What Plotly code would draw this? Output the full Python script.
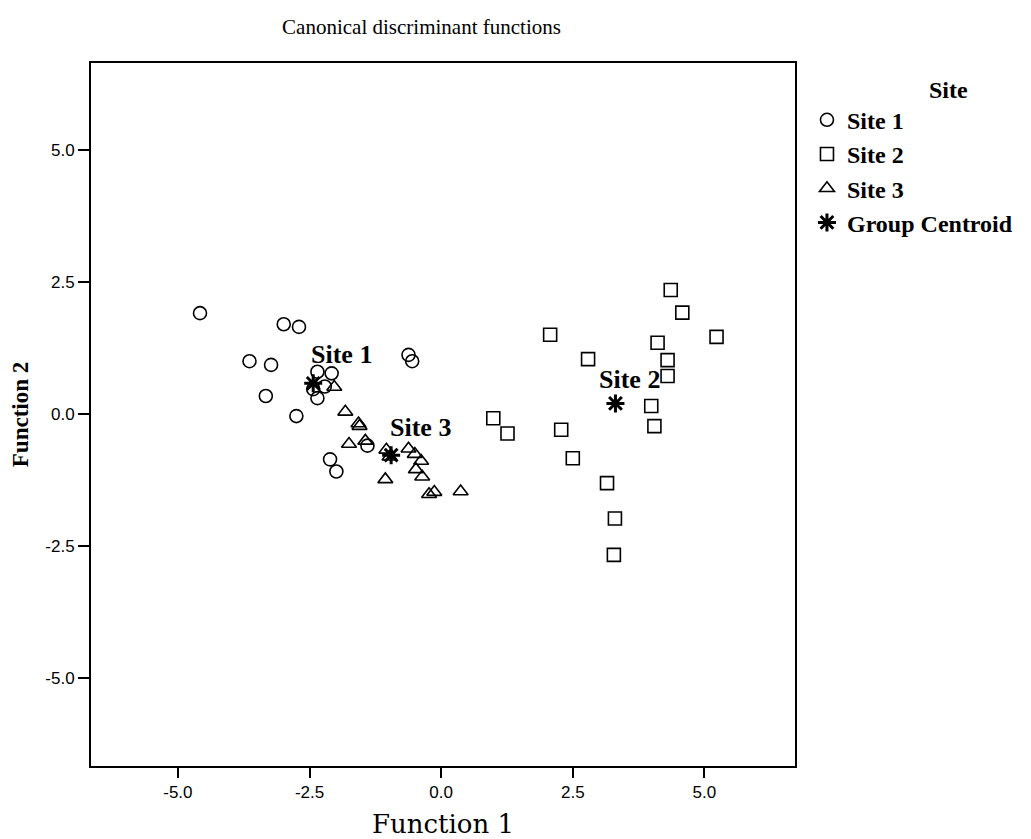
import plotly.graph_objects as go

site1_x = [-4.58, -2.99, -2.70, -3.64, -3.23, -3.33, -2.75, -2.35, -2.08, -2.43, -2.21, -2.35, -2.11, -1.99, -1.40, -0.62, -0.55]
site1_y = [1.91, 1.70, 1.65, 1.00, 0.93, 0.34, -0.04, 0.80, 0.77, 0.47, 0.52, 0.30, -0.86, -1.09, -0.60, 1.12, 1.00]

site2_x = [4.36, 4.58, 2.07, 5.23, 4.11, 2.79, 4.30, 4.30, 3.99, 4.05, 0.99, 1.26, 2.28, 2.50, 3.15, 3.30, 3.28]
site2_y = [2.35, 1.92, 1.50, 1.46, 1.35, 1.04, 1.02, 0.72, 0.15, -0.23, -0.08, -0.37, -0.30, -0.84, -1.31, -1.98, -2.67]

site3_x = [-2.03, -1.82, -1.57, -1.55, -1.75, -1.44, -1.04, -0.98, -0.62, -0.50, -0.38, -0.48, -0.36, -1.06, -0.23, -0.13, 0.37]
site3_y = [0.51, 0.04, -0.18, -0.23, -0.57, -0.51, -0.68, -0.81, -0.66, -0.76, -0.89, -1.05, -1.19, -1.24, -1.52, -1.48, -1.47]

centroid_labels = ["Site 1", "Site 2", "Site 3"]
centroid_x = [-2.43, 3.31, -0.95]
centroid_y = [0.58, 0.20, -0.78]
label_shift = [(28, 29), (14, 24), (29, 28)]

tick_vals = [-5.0, -2.5, 0.0, 2.5, 5.0]
tick_text = ["-5.0", "-2.5", "0.0", "2.5", "5.0"]

serif = "Liberation Serif"
mk_line = dict(color="black", width=1.6)

fig = go.Figure()
fig.add_trace(go.Scatter(x=site1_x, y=site1_y, mode="markers", name="<b>Site 1</b>",
                         marker=dict(symbol="circle-open", size=13, color="black", line=mk_line)))
fig.add_trace(go.Scatter(x=site2_x, y=site2_y, mode="markers", name="<b>Site 2</b>",
                         marker=dict(symbol="square-open", size=13, color="black", line=mk_line)))
fig.add_trace(go.Scatter(x=site3_x, y=site3_y, mode="markers", name="<b>Site 3</b>",
                         marker=dict(symbol="triangle-up-open", size=13, color="black", line=mk_line)))
fig.add_trace(go.Scatter(x=centroid_x, y=centroid_y, mode="markers", name="<b>Group Centroid</b>",
                         marker=dict(symbol="asterisk-open", size=15, color="black",
                                     line=dict(color="black", width=3))))

for lab, cx, cy, (dx, dy) in zip(centroid_labels, centroid_x, centroid_y, label_shift):
    fig.add_annotation(x=cx, y=cy, text="<b>" + lab + "</b>", showarrow=False,
                       xshift=dx, yshift=dy, font=dict(family=serif, size=26, color="black"))

fig.update_layout(
    width=1023, height=831,
    paper_bgcolor="white", plot_bgcolor="white",
    margin=dict(l=83, r=236, t=55, b=73, autoexpand=False),
    title=dict(text="Canonical discriminant functions", x=413.5 / 1023, xanchor="center",
               y=1 - 19 / 831, yanchor="middle",
               font=dict(family=serif, size=21, color="black")),
    legend=dict(x=1.017, xanchor="left", y=0.995, yanchor="top",
                title=dict(text="&nbsp;" * 12 + "<b>Site</b>", side="top center",
                           font=dict(family=serif, size=24, color="black")),
                font=dict(family=serif, size=24, color="black"),
                itemwidth=30, bgcolor="rgba(0,0,0,0)"),
    showlegend=True,
)
fig.update_xaxes(range=[-6.65, 6.72], tickvals=tick_vals, ticktext=tick_text, automargin=False,
                 showgrid=False, zeroline=False, showline=True, mirror=True,
                 linecolor="black", linewidth=2, ticks="outside", ticklen=10, tickwidth=2,
                 tickcolor="black", tickfont=dict(family="Liberation Sans", size=17, color="black"),
                 title=dict(text="Function 1", font=dict(family="DejaVu Serif", size=26, color="black"),
                            standoff=15))
fig.update_yaxes(range=[-6.67, 6.65], tickvals=tick_vals, ticktext=tick_text, automargin=False,
                 showgrid=False, zeroline=False, showline=True, mirror=True,
                 linecolor="black", linewidth=2, ticks="outside", ticklen=11, tickwidth=2,
                 tickcolor="black", tickfont=dict(family="Liberation Sans", size=17, color="black"),
                 title=dict(text="<b>Function 2</b>", font=dict(family=serif, size=23, color="black"),
                            standoff=12))

fig.write_html("out.html")
